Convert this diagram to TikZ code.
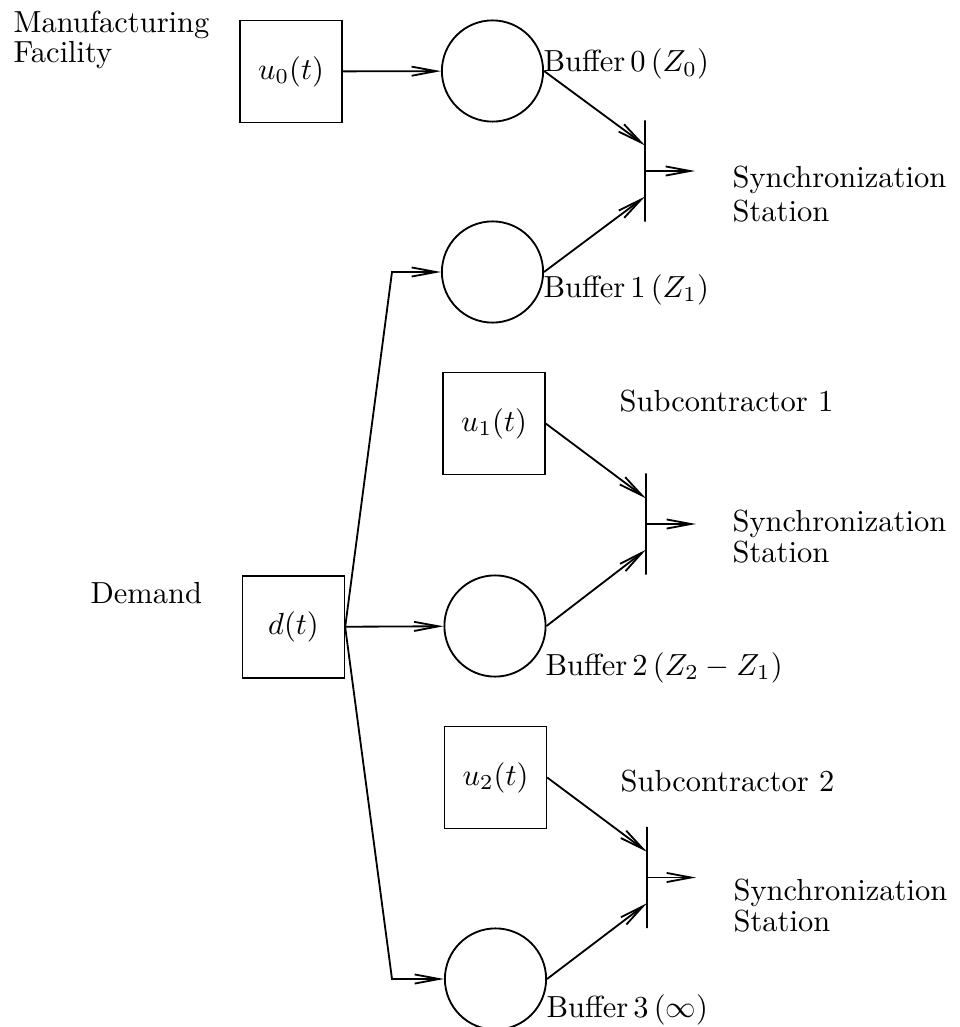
\documentclass[tikz,border=0pt]{standalone}
\usetikzlibrary{positioning,arrows.meta}

\begin{document}
\begin{tikzpicture}[
    x=0.328pt, y=-0.328pt,
    box/.style={
        rectangle,
        draw=black,
        line width=0.5pt,
        minimum size=33.4pt,
        inner sep=0pt
    },
    buffer/.style={
        circle,
        draw=black,
        line width=0.6pt,
        minimum size=33.2pt,
        inner sep=0pt
    },
    bar/.style={
        rectangle,
        draw=black,
        line width=0.6pt,
        minimum width=0pt,
        minimum height=33.2pt,
        inner sep=0pt
    },
    line/.style={
        -{Straight Barb[length=8pt,width=3pt]},
        line width=0.6pt
    },
    lbl/.style={
        anchor=base west,
        inner sep=0pt,
        align=left
    }
]
\useasboundingbox (0,0) rectangle (959,1027);

% sources
\node[box] (U0) at (291,71.5) {$u_0(t)$};
\node[box] (D) at (293.5,627) {$d(t)$};
\node[box] (U1) at (494,423.5) {$u_1(t)$};
\node[box] (U2) at (495.5,777.5) {$u_2(t)$};

% buffers
\node[buffer] (B0) at (492.5,71) {};
\node[buffer] (B1) at (492.5,272) {};
\node[buffer] (B2) at (495,626) {};
\node[buffer] (B3) at (495.5,979) {};

% synchronization stations
\node[bar] (S1) at (645,171) {};
\node[bar] (S2) at (646,524) {};
\node[bar] (S3) at (647,877.5) {};
\coordinate (O1) at (695,171);
\coordinate (O2) at (696,524);
\coordinate (O3) at (696,877.5);
\coordinate (K1) at (392,272);
\coordinate (K3) at (392,979);

% labels (base = last line)
\node[lbl] (MF) at (13,63) {Manufacturing\\[-2pt]Facility};
\node[lbl] (DM) at (90,603) {Demand};
\node[lbl] (L0) at (543,72) {Buffer\,0\,$(Z_0)$};
\node[lbl] (L1) at (543,297) {Buffer\,1\,$(Z_1)$};
\node[lbl] (L2) at (545,675) {Buffer\,2\,$(Z_2-Z_1)$};
\node[lbl] (L3) at (546,1017) {Buffer\,3\,$(\infty)$};
\node[lbl] (SC1) at (619,411) {Subcontractor 1};
\node[lbl] (SC2) at (620,791) {Subcontractor 2};
\node[lbl] (ST1) at (732,221) {Synchronization\\[-1pt]Station};
\node[lbl] (ST2) at (732,562) {Synchronization\\[-2pt]Station};
\node[lbl] (ST3) at (733,931) {Synchronization\\[-2pt]Station};

% flows
\draw[line] (U0) -- (B0);
\draw[line] (D) -- (B2);
\draw[line] (D.east) -- (K1) -- (B1.west);
\draw[line] (D.east) -- (K3) -- (B3.west);

\draw[line] (B0.east) -- ([yshift=8.4pt]S1.center);
\draw[line] (B1.east) -- ([yshift=-8.4pt]S1.center);
\draw[line] (S1.center) -- (O1);

\draw[line] (U1.east) -- ([yshift=8.4pt]S2.center);
\draw[line] (B2.east) -- ([yshift=-8.4pt]S2.center);
\draw[line] (S2.center) -- (O2);

\draw[line] (U2.east) -- ([yshift=8.4pt]S3.center);
\draw[line] (B3.east) -- ([yshift=-8.4pt]S3.center);
\draw[line] (S3.center) -- (O3);

\end{tikzpicture}
\end{document}
